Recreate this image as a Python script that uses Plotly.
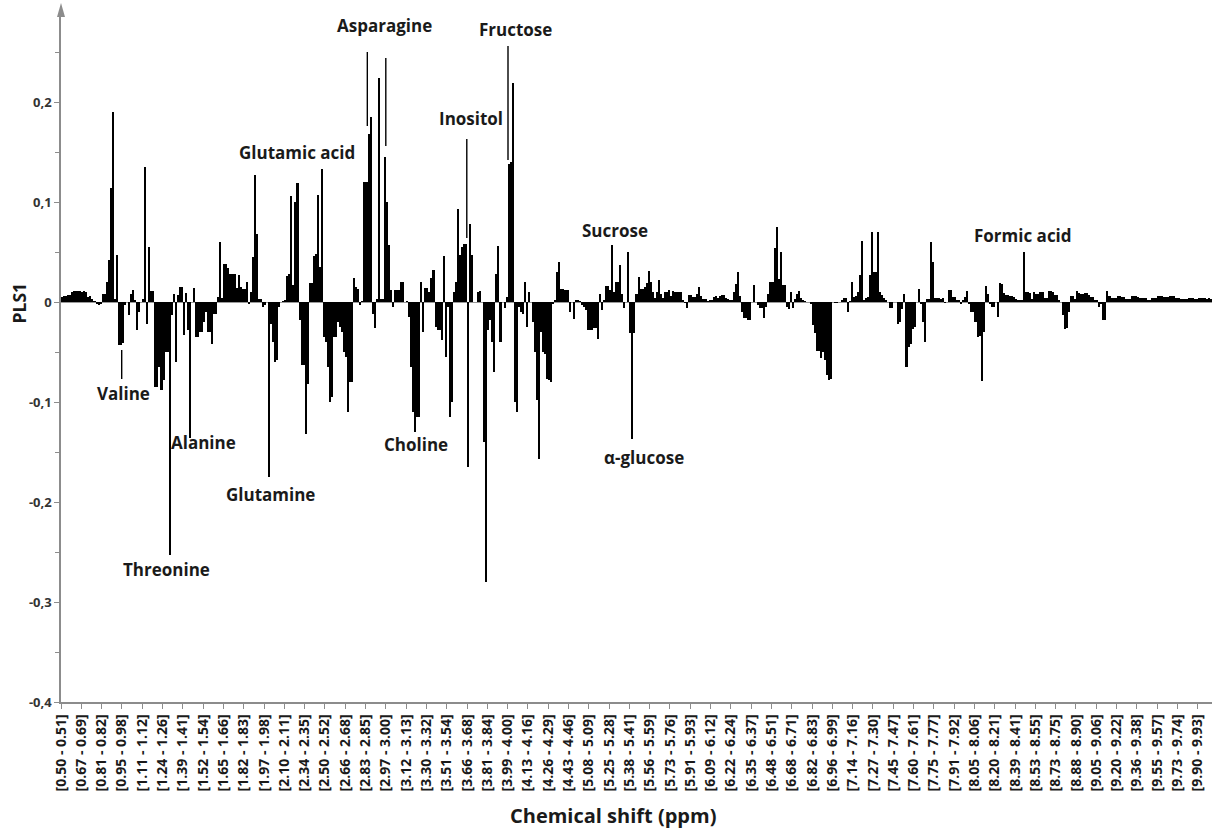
import numpy as np
import plotly.graph_objects as go

# PLS1 loadings per spectral bin, grouped by chemical-shift region
pls1_050_300 = [
    0.005, 0.006, 0.006, 0.007, 0.007, 0.010, 0.011, 0.011, 0.011, 0.011,
    0.010, 0.011, 0.010, 0.005, 0.006, 0.003, 0.001, -0.002, -0.003, -0.002,
    0.008, 0.008, 0.020, 0.042, 0.114, 0.190, 0.003, 0.047, -0.043, -0.043,
    -0.041, -0.003, 0.0, -0.013, 0.008, 0.012, 0.002, -0.028, -0.010, 0.0,
    0.003, 0.135, -0.022, 0.055, 0.011, 0.011, -0.085, -0.085, -0.065, -0.088,
    -0.078, -0.050, -0.050, -0.253, -0.013, 0.008, -0.060, 0.007, 0.015, 0.015,
    -0.033, 0.009, -0.028, -0.136, 0.0, 0.014, -0.035, -0.035, -0.030, -0.030,
    -0.020, -0.010, -0.030, -0.030, -0.042, -0.012, -0.012, 0.005, 0.060, 0.004,
    0.038, 0.038, 0.034, 0.028, 0.028, 0.028, 0.014, 0.027, 0.015, 0.013,
    0.013, 0.020, -0.002, 0.010, 0.045, 0.127, 0.068, 0.003, 0.003, -0.005,
]
pls1_300_400 = [
    -0.003, 0.0, -0.175, -0.022, -0.040, -0.060, -0.058, -0.005, 0.0, 0.001,
    0.002, 0.026, 0.028, 0.106, 0.017, 0.100, 0.119, -0.018, -0.063, -0.063,
    -0.132, -0.082, 0.019, 0.019, 0.046, 0.048, 0.107, 0.035, 0.133, -0.035,
    -0.040, -0.065, -0.100, -0.095, -0.035, -0.035, -0.020, -0.025, -0.030, -0.050,
    -0.055, -0.110, -0.080, -0.080, 0.024, 0.015, 0.013, -0.003, 0.001, 0.120,
    0.120, 0.168, 0.185, -0.012, -0.026, 0.003, 0.224, 0.003, 0.003, 0.145,
    0.100, 0.057, 0.012, -0.005, 0.012, 0.012, 0.012, 0.020, 0.020, 0.0,
    0.001, -0.015, -0.065, -0.110, -0.130, -0.115, -0.115, 0.020, -0.030, 0.014,
    0.014, 0.010, 0.024, 0.032, -0.025, -0.028, -0.028, -0.038, 0.046, -0.055,
    -0.005, -0.115, -0.100, 0.010, 0.020, 0.093, 0.047, 0.055, 0.058, 0.058,
]
pls1_400_600 = [
    -0.165, 0.078, 0.047, 0.0, 0.0, 0.010, 0.011, 0.0, -0.140, -0.280,
    -0.028, -0.018, -0.040, -0.070, 0.028, 0.056, -0.040, 0.0, -0.006, 0.005,
    0.138, 0.140, 0.219, -0.100, -0.110, -0.005, -0.010, -0.012, 0.020, -0.025,
    0.010, 0.0, -0.020, -0.050, -0.098, -0.157, -0.030, -0.050, -0.052, -0.077,
    -0.078, -0.080, -0.002, 0.002, 0.030, 0.040, 0.013, 0.013, 0.012, 0.012,
    -0.010, 0.0, -0.017, 0.002, 0.002, 0.001, -0.003, -0.005, -0.008, -0.028,
    -0.028, -0.028, -0.026, -0.026, -0.037, 0.008, -0.008, 0.002, 0.016, 0.016,
    0.012, 0.057, 0.010, 0.020, 0.020, 0.037, 0.008, -0.006, 0.0, 0.050,
    -0.031, -0.137, -0.031, 0.008, 0.025, 0.013, 0.013, 0.015, 0.019, 0.031,
    0.020, 0.010, 0.004, 0.010, 0.022, 0.008, 0.004, 0.010, 0.010, 0.012,
]
pls1_600_760 = [
    0.006, 0.011, 0.010, 0.010, 0.010, 0.010, 0.002, -0.001, -0.006, 0.007,
    0.007, 0.005, 0.005, 0.008, 0.015, 0.006, 0.003, 0.003, 0.001, 0.002,
    0.002, 0.005, 0.006, 0.004, 0.006, 0.007, 0.007, 0.004, 0.003, 0.002,
    0.002, 0.010, 0.018, 0.030, 0.006, -0.010, -0.016, -0.016, -0.018, -0.018,
    0.0, 0.017, 0.0, -0.003, -0.006, -0.006, -0.016, -0.005, 0.008, 0.020,
    0.020, 0.054, 0.075, 0.023, 0.050, 0.017, 0.017, -0.005, -0.007, 0.010,
    -0.006, 0.003, 0.008, 0.011, 0.004, 0.002, 0.001, 0.0, 0.0, -0.002,
    -0.023, -0.031, -0.049, -0.049, -0.056, -0.050, -0.058, -0.073, -0.078, -0.077,
    0.0, -0.001, -0.001, 0.0, 0.002, 0.004, 0.004, -0.010, 0.001, 0.020,
    0.005, 0.006, 0.010, 0.027, 0.061, 0.002, 0.004, 0.005, 0.027, 0.070,
]
pls1_760_900 = [
    0.030, 0.030, 0.070, 0.010, 0.007, 0.004, 0.002, 0.0, -0.006, -0.006,
    0.0, 0.0, -0.022, -0.020, -0.007, 0.008, -0.065, -0.045, -0.042, -0.027,
    -0.025, 0.0, 0.013, -0.002, -0.020, -0.040, 0.003, 0.003, 0.060, 0.040,
    0.004, 0.004, 0.004, 0.003, 0.004, -0.001, 0.0, 0.012, 0.012, 0.005,
    0.005, 0.002, 0.002, -0.002, 0.002, 0.005, 0.011, -0.002, -0.010, -0.010,
    -0.020, -0.035, -0.034, -0.079, -0.030, 0.016, 0.008, -0.002, -0.005, -0.005,
    0.0, -0.015, 0.019, 0.018, 0.009, 0.007, 0.007, 0.006, 0.006, 0.005,
    0.003, 0.002, 0.002, 0.002, 0.050, 0.010, 0.010, 0.009, 0.003, 0.010,
    0.008, 0.008, 0.010, 0.010, 0.004, 0.004, 0.011, 0.011, 0.010, 0.007,
    0.007, 0.002, 0.0, -0.013, -0.027, -0.026, -0.010, 0.006, 0.006, 0.003,
]
pls1_900_1000 = [
    0.011, 0.009, 0.008, 0.008, 0.009, 0.009, 0.007, 0.005, 0.005, 0.002,
    0.002, -0.005, -0.002, -0.018, -0.018, 0.011, 0.006, 0.004, 0.004, 0.004,
    0.006, 0.006, 0.005, 0.005, 0.003, 0.003, 0.003, 0.006, 0.006, 0.006,
    0.005, 0.004, 0.004, 0.004, 0.004, 0.002, 0.002, 0.004, 0.004, 0.004,
    0.006, 0.006, 0.006, 0.005, 0.005, 0.005, 0.006, 0.006, 0.006, 0.004,
    0.004, 0.003, 0.003, 0.003, 0.003, 0.004, 0.004, 0.004, 0.003, 0.003,
    0.004, 0.004, 0.004, 0.004, 0.003, 0.004, 0.003,
]

# Bin range labels shown every 10 bins
bin_labels = [
    "[0.50 - 0.51]", "[0.67 - 0.69]", "[0.81 - 0.82]", "[0.95 - 0.98]", "[1.11 - 1.12]",
    "[1.24 - 1.26]", "[1.39 - 1.41]", "[1.52 - 1.54]", "[1.65 - 1.66]", "[1.82 - 1.83]",
    "[1.97 - 1.98]", "[2.10 - 2.11]", "[2.34 - 2.35]", "[2.50 - 2.52]", "[2.66 - 2.68]",
    "[2.83 - 2.85]", "[2.97 - 3.00]", "[3.12 - 3.13]", "[3.30 - 3.32]", "[3.51 - 3.54]",
    "[3.66 - 3.68]", "[3.81 - 3.84]", "[3.99 - 4.00]", "[4.13 - 4.16]", "[4.26 - 4.29]",
    "[4.43 - 4.46]", "[5.08 - 5.09]", "[5.25 - 5.28]", "[5.38 - 5.41]", "[5.56 - 5.59]",
    "[5.73 - 5.76]", "[5.91 - 5.93]", "[6.09 - 6.12]", "[6.22 - 6.24]", "[6.35 - 6.37]",
    "[6.48 - 6.51]", "[6.68 - 6.71]", "[6.82 - 6.83]", "[6.96 - 6.99]", "[7.14 - 7.16]",
    "[7.27 - 7.30]", "[7.45 - 7.47]", "[7.60 - 7.61]", "[7.75 - 7.77]", "[7.91 - 7.92]",
    "[8.05 - 8.06]", "[8.20 - 8.21]", "[8.39 - 8.41]", "[8.53 - 8.55]", "[8.73 - 8.75]",
    "[8.88 - 8.90]", "[9.05 - 9.06]", "[9.20 - 9.22]", "[9.36 - 9.38]", "[9.55 - 9.57]",
    "[9.73 - 9.74]", "[9.90 - 9.93]",
]
label_step = 10

y_tick_values = [-0.4, -0.3, -0.2, -0.1, 0.0, 0.1, 0.2]
y_tick_labels = ["-0,4", "-0,3", "-0,2", "-0,1", "0", "0,1", "0,2"]

# Metabolite labels: text, x (bin units), y (PLS1 units)
metabolites = [
    ("Valine", 31.0, -0.091),
    ("Threonine", 52.2, -0.267),
    ("Alanine", 70.2, -0.140),
    ("Glutamine", 103.2, -0.192),
    ("Glutamic acid", 116.3, 0.150),
    ("Asparagine", 159.4, 0.277),
    ("Choline", 174.9, -0.142),
    ("Inositol", 202.0, 0.184),
    ("Fructose", 224.1, 0.273),
    ("Sucrose", 272.9, 0.072),
    ("α-glucose", 287.2, -0.155),
    ("Formic acid", 473.9, 0.067),
]
# Leader lines: x (bin units), y start, y end
leaders = [
    (29.9, -0.048, -0.077),
    (150.9, 0.250, 0.176),
    (160.0, 0.244, 0.156),
    (199.9, 0.163, 0.064),
    (220.2, 0.256, 0.142),
]

values = np.array(pls1_050_300 + pls1_300_400 + pls1_400_600
                  + pls1_600_760 + pls1_760_900 + pls1_900_1000)
n_bins = len(values)
x_pos = np.arange(n_bins) + 0.5

AXIS_GRAY = "#8c8c8c"
TEXT = "#1a1a1a"
FONT = "Open Sans"

fig = go.Figure()
fig.add_trace(go.Bar(
    x=x_pos, y=values, width=1.0,
    marker=dict(color="black", line=dict(width=0)),
    hoverinfo="skip", showlegend=False,
))

for x, y0, y1 in leaders:
    fig.add_shape(type="line", xref="x", yref="y", x0=x, x1=x, y0=y0, y1=y1,
                  line=dict(color="black", width=1.4))

for text, x, y in metabolites:
    fig.add_annotation(x=x, y=y, xref="x", yref="y", text=text, showarrow=False,
                       font=dict(family=FONT, size=17, color=TEXT, weight=700),
                       xanchor="center", yanchor="middle")

# Arrowhead on top of the y axis
fig.add_shape(type="path", xref="paper", yref="paper", xsizemode="pixel",
              ysizemode="pixel", xanchor=0, yanchor=1,
              path="M -4,0 L 4,0 L 0,14 Z", fillcolor=AXIS_GRAY, line=dict(width=0))

fig.add_annotation(xref="paper", yref="paper", x=(613 - 61) / 1151, y=-0.165,
                   text="Chemical shift (ppm)", showarrow=False,
                   font=dict(family=FONT, size=20, color=TEXT, weight=700),
                   xanchor="center", yanchor="middle")
fig.add_annotation(xref="paper", yref="paper", x=-0.0365, y=0.5833,
                   text="PLS1", showarrow=False, textangle=-90,
                   font=dict(family=FONT, size=17.5, color=TEXT, weight=700),
                   xanchor="center", yanchor="middle")

fig.update_layout(
    width=1215, height=834,
    margin=dict(l=61, r=3, t=17, b=132),
    paper_bgcolor="white", plot_bgcolor="white",
    bargap=0,
    xaxis=dict(
        range=[0, n_bins],
        tickmode="array",
        tickvals=[k * label_step for k in range(len(bin_labels))],
        ticktext=bin_labels,
        tickangle=-90,
        tickfont=dict(family=FONT, size=14, color=TEXT, weight=700),
        ticks="outside", ticklen=5, tickcolor=AXIS_GRAY, tickwidth=1,
        showline=True, linecolor=AXIS_GRAY, linewidth=1.5,
        showgrid=False, zeroline=False,
    ),
    yaxis=dict(
        range=[-0.4, 0.285],
        tickmode="array",
        tickvals=y_tick_values,
        ticktext=y_tick_labels,
        tickfont=dict(family=FONT, size=13, color="#333333", weight=700),
        ticks="outside", ticklen=5, tickcolor=AXIS_GRAY, tickwidth=1,
        minor=dict(tick0=0, dtick=0.05, ticks="outside", ticklen=4,
                   tickcolor=AXIS_GRAY, showgrid=False),
        showline=True, linecolor=AXIS_GRAY, linewidth=1.5,
        showgrid=False,
        zeroline=True, zerolinecolor="#9a9a9a", zerolinewidth=1,
    ),
)

fig.write_html("out.html")
